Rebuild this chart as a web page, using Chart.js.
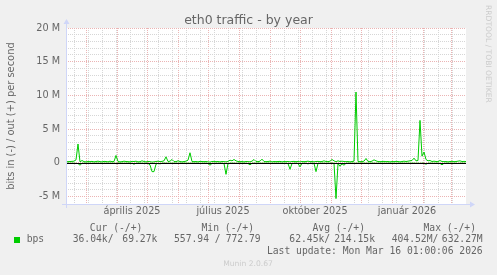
<!DOCTYPE html>
<html>
<head>
<meta charset="utf-8">
<script src="https://cdn.jsdelivr.net/npm/chart.js@4.4.1/dist/chart.umd.min.js"></script>
<style>
  html, body { margin: 0; padding: 0; background: #f0f0f0; }
  canvas { display: block; }
</style>
</head>
<body>
<canvas id="trafficChart" width="497" height="275"></canvas>
<script>
// one sample every 2 days, starting at the left edge of the year graph
const startDate = '2025-02-09';
const stepDays = 2;

// out (+), in millions of bits per second
const outBps = [
  0.15, 0.18, 0.2, 0.22, 0.25, 0.45, 2.8, 0.15, 0.35, 0.18,
  0.15, 0.2, 0.18, 0.22, 0.15, 0.2, 0.25, 0.18, 0.15, 0.22,
  0.2, 0.15, 0.25, 0.18, 0.2, 1.1, 0.2, 0.15, 0.18, 0.25,
  0.2, 0.18, 0.15, 0.22, 0.2, 0.25, 0.15, 0.18, 0.3, 0.2,
  0.15, 0.2, 0.18, 0.12, 0.15, 0.2, 0.25, 0.18, 0.22, 0.3,
  0.9, 0.2, 0.25, 0.5, 0.2, 0.18, 0.3, 0.2, 0.15, 0.2,
  0.25, 0.4, 1.5, 0.2, 0.18, 0.2, 0.15, 0.22, 0.2, 0.18,
  0.2, 0.15, 0.12, 0.2, 0.22, 0.18, 0.2, 0.15, 0.2, 0.18,
  0.15, 0.2, 0.4, 0.3, 0.5, 0.3, 0.2, 0.18, 0.2, 0.15,
  0.2, 0.18, 0.15, 0.25, 0.5, 0.2, 0.18, 0.25, 0.55, 0.2,
  0.18, 0.2, 0.25, 0.15, 0.2, 0.18, 0.2, 0.22, 0.15, 0.2,
  0.18, 0.2, 0.15, 0.2, 0.22, 0.18, 0.2, 0.15, 0.2, 0.18,
  0.2, 0.25, 0.18, 0.2, 0.15, 0.2, 0.22, 0.18, 0.2, 0.3,
  0.2, 0.18, 0.25, 0.5, 0.3, 0.15, 0.3, 0.2, 0.25, 0.2,
  0.18, 0.2, 0.15, 0.2, 0.25, 10.5, 0.2, 0.18, 0.2, 0.25,
  0.65, 0.2, 0.18, 0.25, 0.45, 0.3, 0.2, 0.18, 0.2, 0.22,
  0.18, 0.2, 0.15, 0.2, 0.18, 0.22, 0.2, 0.15, 0.2, 0.25,
  0.2, 0.25, 0.3, 0.35, 0.7, 0.3, 0.35, 6.3, 1.0, 1.6,
  0.5, 0.3, 0.35, 0.2, 0.25, 0.2, 0.18, 0.35, 0.2, 0.18,
  0.2, 0.15, 0.2, 0.22, 0.18, 0.2, 0.25, 0.3, 0.2, 0.22,
  0.2
];

// in (-), drawn below zero
const inBps = [
  -0.05, -0.04, -0.06, -0.05, -0.05, -0.08, -0.1, -0.35, -0.06, -0.05,
  -0.05, -0.04, -0.05, -0.06, -0.05, -0.05, -0.04, -0.06, -0.05, -0.05,
  -0.05, -0.06, -0.04, -0.05, -0.05, -0.08, -0.05, -0.04, -0.05, -0.06,
  -0.05, -0.05, -0.04, -0.06, -0.2, -0.05, -0.05, -0.04, -0.05, -0.06,
  -0.05, -0.08, -0.3, -1.3, -1.3, -0.2, -0.05, -0.15, -0.05, -0.04,
  -0.05, -0.06, -0.05, -0.05, -0.04, -0.05, -0.06, -0.05, -0.05, -0.04,
  -0.05, -0.05, -0.06, -0.05, -0.04, -0.05, -0.05, -0.06, -0.05, -0.05,
  -0.04, -0.1, -0.35, -0.08, -0.05, -0.05, -0.06, -0.05, -0.05, -0.1,
  -1.7, -0.1, -0.05, -0.04, -0.05, -0.06, -0.05, -0.05, -0.04, -0.05,
  -0.06, -0.1, -0.3, -0.06, -0.05, -0.05, -0.04, -0.05, -0.06, -0.05,
  -0.05, -0.04, -0.05, -0.06, -0.05, -0.05, -0.04, -0.05, -0.06, -0.05,
  -0.05, -0.1, -0.95, -0.1, -0.05, -0.04, -0.08, -0.6, -0.06, -0.05,
  -0.05, -0.15, -0.05, -0.04, -0.08, -1.3, -0.08, -0.05, -0.04, -0.05,
  -0.06, -0.05, -0.05, -0.04, -0.06, -5.3, -0.1, -0.5, -0.15, -0.35,
  -0.06, -0.05, -0.05, -0.04, -0.05, -0.06, -0.05, -0.05, -0.04, -0.05,
  -0.06, -0.05, -0.05, -0.04, -0.05, -0.06, -0.05, -0.05, -0.04, -0.05,
  -0.06, -0.05, -0.05, -0.04, -0.05, -0.06, -0.05, -0.05, -0.04, -0.05,
  -0.06, -0.05, -0.05, -0.04, -0.05, -0.06, -0.05, -0.08, -0.05, -0.05,
  -0.2, -0.05, -0.04, -0.05, -0.06, -0.05, -0.05, -0.08, -0.3, -0.06,
  -0.05, -0.04, -0.05, -0.06, -0.05, -0.05, -0.1, -0.05, -0.04, -0.05,
  -0.05
];

const monthStarts = [
  '2025-03-01', '2025-04-01', '2025-05-01', '2025-06-01', '2025-07-01', '2025-08-01',
  '2025-09-01', '2025-10-01', '2025-11-01', '2025-12-01', '2026-01-01', '2026-02-01', '2026-03-01'
];
// every second monday
const minorLines = [
  '2025-02-17', '2025-03-03', '2025-03-17', '2025-03-31', '2025-04-14', '2025-04-28',
  '2025-05-12', '2025-05-26', '2025-06-09', '2025-06-23', '2025-07-07', '2025-07-21',
  '2025-08-04', '2025-08-18', '2025-09-15', '2025-09-29', '2025-10-13', '2025-10-27',
  '2025-11-10', '2025-11-24', '2025-12-08', '2025-12-22', '2026-01-05', '2026-01-19',
  '2026-02-02', '2026-02-16', '2026-03-02'
];
const monthLabelDates = ['2025-04-16', '2025-07-16', '2025-10-16', '2026-01-16'];
const monthLabels = ['április 2025', 'július 2025', 'október 2025', 'január 2026'];

const yTickValues = [-5, -4, -3, -2, -1, 0, 1, 2, 3, 4, 5, 6, 7, 8, 9, 10, 11, 12, 13, 14, 15, 16, 17, 18, 19, 20];

const legendHeads = ['Cur (-/+)', 'Min (-/+)', 'Avg (-/+)', 'Max (-/+)'];
const legendIn = ['36.04k/', '557.94 /', '62.45k/', '404.52M/'];
const legendOut = ['69.27k', '772.79', '214.15k', '632.27M'];

const dayOf = s => (Date.parse(s) - Date.parse(startDate)) / 864e5;

const majorDays = monthStarts.map(dayOf);
const minorDays = minorLines.map(dayOf);
const labelDays = monthLabelDates.map(dayOf);

const FONT = 'DejaVu Sans';
const MONO = 'DejaVu Sans Mono';
const GREEN = '#00cc00';
const MAJOR_GRID = '#ebb4b4';
const MINOR_GRID = '#d6d6d6';

const muninDecor = {
  id: 'muninDecor',
  beforeDraw(chart) {
    const {ctx, chartArea: a} = chart;
    ctx.save();
    ctx.fillStyle = '#f0f0f0';
    ctx.fillRect(0, 0, chart.width, chart.height);
    ctx.fillStyle = '#ffffff';
    ctx.fillRect(a.left, a.top, a.right - a.left, a.bottom - a.top);
    ctx.restore();
  },
  afterDatasetsDraw(chart) {
    const {ctx, chartArea: a, scales} = chart;
    ctx.save();
    // zero line
    const y0 = Math.round(scales.y.getPixelForValue(0)) + 0.5;
    ctx.strokeStyle = '#000000';
    ctx.lineWidth = 1;
    ctx.beginPath();
    ctx.moveTo(a.left, y0);
    ctx.lineTo(a.right, y0);
    ctx.stroke();

    // axes with arrows
    const xo = a.left + 0.5, yo = a.bottom + 0.5;
    ctx.strokeStyle = '#CFD6F8';
    ctx.fillStyle = '#CFD6F8';
    ctx.beginPath();
    ctx.moveTo(a.left - 4, yo);
    ctx.lineTo(a.right + 4, yo);
    ctx.moveTo(xo, a.bottom + 4);
    ctx.lineTo(xo, a.top - 4);
    ctx.stroke();
    ctx.beginPath();
    ctx.moveTo(a.right + 4, yo - 3);
    ctx.lineTo(a.right + 9, yo);
    ctx.lineTo(a.right + 4, yo + 3);
    ctx.closePath();
    ctx.fill();
    ctx.beginPath();
    ctx.moveTo(xo - 3, a.top - 4);
    ctx.lineTo(xo, a.top - 9);
    ctx.lineTo(xo + 3, a.top - 4);
    ctx.closePath();
    ctx.fill();
    ctx.restore();
  },
  afterDraw(chart) {
    const {ctx, chartArea: a} = chart;
    ctx.save();
    ctx.fillStyle = '#666666';

    // title
    ctx.font = '12.5px ' + FONT;
    ctx.textAlign = 'center';
    ctx.textBaseline = 'alphabetic';
    ctx.fillText('eth0 traffic - by year', chart.width / 2, 24);

    // vertical axis title
    ctx.save();
    ctx.translate(11, (a.top + a.bottom) / 2);
    ctx.rotate(-Math.PI / 2);
    ctx.font = '9.9px ' + FONT;
    ctx.textBaseline = 'middle';
    ctx.fillText('bits in (-) / out (+) per second', 0, 0);
    ctx.restore();

    // watermark
    ctx.save();
    ctx.fillStyle = '#cccccc';
    ctx.translate(488, 5);
    ctx.rotate(Math.PI / 2);
    ctx.font = '7.6px ' + FONT;
    ctx.textAlign = 'left';
    ctx.textBaseline = 'middle';
    ctx.fillText('RRDTOOL / TOBI OETIKER', 0, 0);
    ctx.restore();

    // legend
    ctx.font = '9.7px ' + MONO;
    ctx.textBaseline = 'middle';
    const headRight = [142.3, 254, 365, 476];
    const inLeft = [72.7, 174, 289.3, 391.7];
    const outRight = [157.3, 260.7, 375, 482.7];
    ctx.textAlign = 'right';
    legendHeads.forEach((t, i) => ctx.fillText(t, headRight[i], 228));
    legendOut.forEach((t, i) => ctx.fillText(t, outRight[i], 239.5));
    ctx.fillText('Last update: Mon Mar 16 01:00:06 2026', 482.7, 251);
    ctx.textAlign = 'left';
    legendIn.forEach((t, i) => ctx.fillText(t, inLeft[i], 239.5));
    ctx.fillText('bps', 26.7, 239.5);
    ctx.fillStyle = GREEN;
    ctx.fillRect(14, 237, 6, 6);

    ctx.fillStyle = '#cccccc';
    ctx.font = '7.6px ' + FONT;
    ctx.textAlign = 'center';
    ctx.fillText('Munin 2.0.67', 248, 264);
    ctx.restore();
  }
};

const ctx = document.getElementById('trafficChart');

new Chart(ctx, {
  type: 'line',
  data: {
    datasets: [{
      label: 'in',
      data: inBps.map((v, i) => ({x: i * stepDays, y: v})),
      borderColor: GREEN,
      borderWidth: 1,
      pointRadius: 0,
      tension: 0,
    }, {
      label: 'out',
      data: outBps.map((v, i) => ({x: i * stepDays, y: v})),
      borderColor: GREEN,
      borderWidth: 1,
      pointRadius: 0,
      tension: 0,
    }]
  },
  options: {
    responsive: false,
    animation: false,
    events: [],
    layout: {
      padding: {top: 28, right: 31, left: 0, bottom: 0}
    },
    plugins: {
      legend: {display: false},
      title: {display: false},
      tooltip: {enabled: false},
    },
    scales: {
      x: {
        type: 'linear',
        min: 0,
        max: 400,
        afterBuildTicks: scale => {
          scale.ticks = [...minorDays, ...majorDays, ...labelDays].map(v => ({value: v}));
        },
        afterFit: scale => { scale.height = 71; },
        grid: {
          drawTicks: false,
          color: c => {
            const v = c.tick && c.tick.value;
            if (majorDays.includes(v)) return MAJOR_GRID;
            if (minorDays.includes(v)) return MINOR_GRID;
            return 'rgba(0,0,0,0)';
          },
        },
        border: {display: false, dash: [1, 1]},
        ticks: {
          autoSkip: false,
          maxRotation: 0,
          padding: 2,
          color: '#666666',
          font: {family: FONT, size: 9.7},
          callback: v => {
            const k = labelDays.indexOf(v);
            return k >= 0 ? monthLabels[k] : '';
          }
        }
      },
      y: {
        min: -6.1,
        max: 20,
        afterBuildTicks: scale => {
          scale.ticks = yTickValues.map(v => ({value: v}));
        },
        afterFit: scale => { scale.width = 66; },
        grid: {
          drawTicks: false,
          color: c => (c.tick && c.tick.value % 5 === 0) ? MAJOR_GRID : MINOR_GRID,
        },
        border: {display: false, dash: [1, 1]},
        ticks: {
          autoSkip: false,
          padding: 6,
          color: '#666666',
          font: {family: FONT, size: 9.7},
          callback: v => v % 5 === 0 ? (v === 0 ? '0' : v + ' M') : ''
        }
      }
    }
  },
  plugins: [muninDecor]
});
</script>
</body>
</html>
